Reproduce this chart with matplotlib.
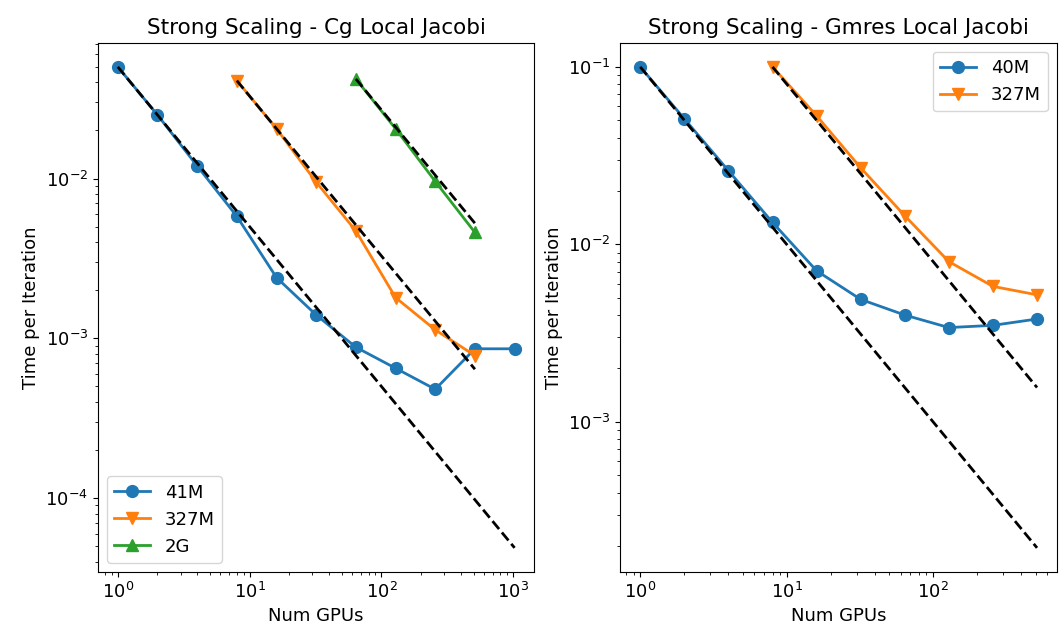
import matplotlib
matplotlib.use("Agg")
import matplotlib.pyplot as plt
import numpy as np

# Cg local jacobi
cg_gpus_41m = [1, 2, 4, 8, 16, 32, 64, 128, 256, 512, 1024]
cg_time_41m = [0.05, 0.025, 0.012, 0.0058, 0.0024, 0.0014, 0.00088, 0.00065, 0.00048, 0.00086, 0.00086]
cg_gpus_327m = [8, 16, 32, 64, 128, 256, 512]
cg_time_327m = [0.041, 0.0205, 0.0095, 0.0047, 0.0018, 0.00113, 0.00078]
cg_gpus_2g = [64, 128, 256, 512]
cg_time_2g = [0.042, 0.0205, 0.0096, 0.0046]

# Gmres local jacobi
gm_gpus_40m = [1, 2, 4, 8, 16, 32, 64, 128, 256, 512]
gm_time_40m = [0.1, 0.051, 0.026, 0.0133, 0.0071, 0.0049, 0.004, 0.0034, 0.0035, 0.0038]
gm_gpus_327m = [8, 16, 32, 64, 128, 256, 512]
gm_time_327m = [0.1, 0.053, 0.027, 0.0145, 0.008, 0.0058, 0.0052]

plt.rcParams['font.size'] = 13
plt.rcParams['lines.linewidth'] = 2
plt.rcParams['lines.markersize'] = 8.5


def ideal(gpus, times):
    # perfect strong scaling from the first point
    g = np.array(gpus, dtype=float)
    return times[0] * g[0] / g


fig, (ax1, ax2) = plt.subplots(1, 2, figsize=(10.59, 6.39), dpi=100)
fig.subplots_adjust(left=0.0925, right=0.998, top=0.933, bottom=0.105, wspace=0.197)

ax1.loglog(cg_gpus_41m, cg_time_41m, 'o-', label='41M')
ax1.loglog(cg_gpus_41m, ideal(cg_gpus_41m, cg_time_41m), 'k--')
ax1.loglog(cg_gpus_327m, cg_time_327m, 'v-', label='327M')
ax1.loglog(cg_gpus_327m, ideal(cg_gpus_327m, cg_time_327m), 'k--')
ax1.loglog(cg_gpus_2g, cg_time_2g, '^-', label='2G')
ax1.loglog(cg_gpus_2g, ideal(cg_gpus_2g, cg_time_2g), 'k--')
ax1.set_title('Strong Scaling - Cg Local Jacobi', fontsize=15.5)
ax1.set_xlabel('Num GPUs')
ax1.set_ylabel('Time per Iteration')
ax1.legend(loc='lower left')

ax2.loglog(gm_gpus_40m, gm_time_40m, 'o-', label='40M')
ax2.loglog(gm_gpus_40m, ideal(gm_gpus_40m, gm_time_40m), 'k--')
ax2.loglog(gm_gpus_327m, gm_time_327m, 'v-', label='327M')
ax2.loglog(gm_gpus_327m, ideal(gm_gpus_327m, gm_time_327m), 'k--')
ax2.set_title('Strong Scaling - Gmres Local Jacobi', fontsize=15.5)
ax2.set_xlabel('Num GPUs')
ax2.set_ylabel('Time per Iteration')
ax2.legend(loc='upper right')

fig.savefig('out.png')
